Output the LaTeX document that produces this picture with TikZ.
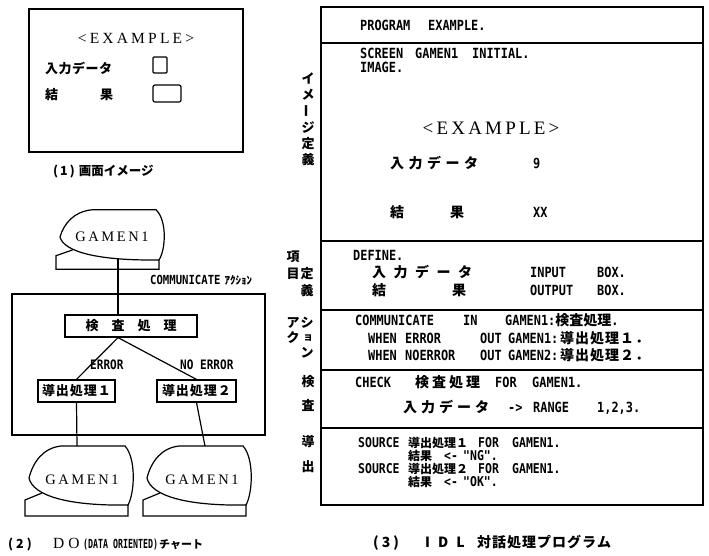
\documentclass[tikz,border=0pt]{standalone}
\usepackage{fontspec}
\setmainfont{Liberation Serif}
\newfontfamily\jpf{Noto Sans CJK JP}
\newfontfamily\codef[FakeStretch=0.85]{DejaVu Sans Mono}
\newfontfamily\serf{Liberation Serif}
\def\spreadtxt#1#2{\def\spreadgap{#1}\spreadfirst#2\relax}
\def\spreadfirst#1{#1\spreadloop}
\def\spreadloop#1{\ifx#1\relax\else\kern\spreadgap#1\expandafter\spreadloop\fi}
\newcommand\cellw[2]{\makebox[#1pt][l]{#2}}
\newcommand\jtxt[1]{{\jpf\bfseries #1}}
\newcommand\crtshape[3]{%
  \begin{scope}[shift={(#1,#2)},yscale=#3]
    \draw[ln] (0,0) .. controls (4,-16) and (14,-30) .. (32,-32) -- (96,-32)
      .. controls (107,-20) and (106,14) .. (99,27)
      .. controls (40,28) and (4,18) .. cycle;
    \draw[ln] (13,15) -- (-4,22) -- (-4,38) -- (99,38) -- (99,27);
  \end{scope}}
\begin{document}
\begin{tikzpicture}[x=1pt,y=-1pt,
  ln/.style={line width=1.2pt},
  code/.style={anchor=base west,inner sep=0pt,font=\codef\bfseries\fontsize{14}{14}\selectfont},
  scode/.style={anchor=base west,inner sep=0pt,font=\codef\bfseries\fontsize{13.5}{13.5}\selectfont},
  jp/.style={inner sep=0pt,font=\jpf\bfseries\fontsize{13}{13}\selectfont},
  sideL/.style={jp,anchor=center},
  boxn/.style={draw,line width=1.2pt,inner sep=0pt,minimum height=22pt,font=\jpf\bfseries\fontsize{13}{13}\selectfont},
  gam/.style={inner sep=0pt,font=\serf\fontsize{14.5}{14.5}\selectfont},
  scrbox/.style={draw,line width=1.2pt,inner sep=0pt},
]
\useasboundingbox (0,0) rectangle (709,555);

% ---------- (1) screen image ----------
\draw[ln] (29,9) rectangle (243,152);
\node[inner sep=0pt,font=\serf\fontsize{15.5}{15.5}\selectfont] (p1t) at (136,38) {\spreadtxt{3.2pt}{<EXAMPLE>}};
\node[jp,anchor=west] (p1a) at (45,68) {\spreadtxt{0.5pt}{入力データ}};
\node[scrbox,rounded corners=1pt,minimum width=14pt,minimum height=16pt] (p1b) at (160,65) {};
\node[jp,anchor=west] (p1c) at (45,95) {結};
\node[jp,anchor=west] (p1d) at (100,95) {果};
\node[scrbox,rounded corners=2pt,minimum width=28pt,minimum height=17pt] (p1e) at (167,93.5) {};
\node[jp,anchor=west,font=\jpf\bfseries\fontsize{12.5}{12.5}\selectfont] (cap1) at (53,172) {(\kern2pt 1\kern2pt)\kern4pt 画面イメージ};

% ---------- (2) DO chart ----------
\crtshape{60}{237}{0.85}
\node[gam] (g0) at (112,237) {\spreadtxt{2.6pt}{GAMEN1}};
\coordinate (g0b) at (118,259);
\node[anchor=base west,inner sep=0pt,font=\codef\bfseries\fontsize{12.5}{12.5}\selectfont] (comm) at (150,284) {COMMUNICATE\kern4pt{\jpf\fontsize{11}{11}\selectfont ｱｸｼｮﾝ}};
\draw[ln] (12,294) rectangle (265,435);
\node[boxn,minimum width=132pt] (kensa) at (131,326) {\spreadtxt{13pt}{検査処理}};
\node[boxn,minimum width=77pt] (dq1) at (76.5,391) {\spreadtxt{1pt}{導出処理１}};
\node[boxn,minimum width=79pt] (dq2) at (196.5,391) {\spreadtxt{1pt}{導出処理２}};
\draw[ln] (g0b) -- (g0b |- kensa.north);
\coordinate (kj) at (g0b |- kensa.south);
\draw[ln] (kj) -- (dq1.north);
\draw[ln] (kj) -- (dq2.north);
\node[scode,font=\codef\bfseries\fontsize{13}{13}\selectfont] (err) at (90,369) {ERROR};
\node[scode,font=\codef\bfseries\fontsize{13}{13}\selectfont] (noerr) at (180,369) {NO ERROR};
\crtshape{29}{478}{1}
\crtshape{147}{478}{1}
\node[gam] (g1) at (82,480) {\spreadtxt{2.6pt}{GAMEN1}};
\node[gam] (g2) at (202,480) {\spreadtxt{2.6pt}{GAMEN1}};
\coordinate (g1t) at (77,446);
\coordinate (g2t) at (205,446);
\draw[ln] (dq1.south) -- (g1t);
\draw[ln] (dq2.south) -- (g2t);
\node[anchor=base west,inner sep=0pt] (cap2) at (8,548) {\cellw{45}{\jpf\bfseries\fontsize{12.5}{12.5}\selectfont(\kern3pt 2\kern3pt)}\cellw{30}{\serf\fontsize{15.5}{15.5}\selectfont D\kern4pt O}\cellw{76}{\codef\bfseries\fontsize{12.5}{12.5}\selectfont\scalebox{0.78}[1]{(DATA ORIENTED)}}{\jpf\bfseries\fontsize{11}{11}\selectfont チャート}};

% ---------- (3) IDL program ----------
\draw[ln] (321,7) rectangle (703,505);
\draw[ln] (321,43) -- (703,43);
\draw[ln] (321,241) -- (703,241);
\draw[ln] (321,310) -- (703,310);
\draw[ln] (321,370) -- (703,370);
\draw[ln] (321,428) -- (703,428);

\node[code] (r1) at (360,30) {\cellw{68}{PROGRAM}EXAMPLE.};
\node[code] (r2) at (360,58) {\cellw{55}{SCREEN}\cellw{57}{GAMEN1}INITIAL.};
\node[code] (r3) at (360,72) {IMAGE.};
\node[inner sep=0pt,font=\serf\fontsize{19}{19}\selectfont] (r4) at (491,128) {\spreadtxt{3.2pt}{<EXAMPLE>}};
\node[code] (r5) at (390,168) {\cellw{143}{\jtxt{\spreadtxt{4.5pt}{入力データ}}}9};
\node[code] (r6) at (390,217) {\cellw{60}{\jtxt{結}}\cellw{83}{\jtxt{果}}XX};

\node[code] (d1) at (353,260) {DEFINE.};
\node[code] (d2) at (372,277) {\cellw{158}{\jtxt{\spreadtxt{7.5pt}{入力データ}}}\cellw{67}{INPUT}BOX.};
\node[code] (d3) at (372,295) {\cellw{80}{\jtxt{結}}\cellw{78}{\jtxt{果}}\cellw{67}{OUTPUT}BOX.};

\node[code] (c1) at (355,325) {\cellw{108}{COMMUNICATE}\cellw{42}{IN}GAMEN1:\jtxt{検査処理}.};
\node[code] (c2) at (368,343) {\cellw{37}{WHEN}\cellw{75}{ERROR}\cellw{28}{OUT}\cellw{52}{GAMEN1:}\jtxt{\spreadtxt{1pt}{導出処理１．}}};
\node[code] (c3) at (368,360) {\cellw{37}{WHEN}\cellw{75}{NOERROR}\cellw{28}{OUT}\cellw{52}{GAMEN2:}\jtxt{\spreadtxt{1pt}{導出処理２．}}};

\node[code] (k1) at (355,387) {\cellw{60}{CHECK}\cellw{80}{\jtxt{\spreadtxt{3pt}{検査処理}}}\cellw{37}{FOR}GAMEN1.};
\node[code] (k2) at (403,412) {\cellw{105}{\jtxt{\spreadtxt{4pt}{入力データ}}}\cellw{25}{->}\cellw{64}{RANGE}1,2,3.};

\node[scode] (s1) at (358,447) {\cellw{50}{SOURCE}\cellw{70}{\jtxt{\fontsize{12}{12}\selectfont 導出処理１}}\cellw{34}{FOR}GAMEN1.};
\node[scode] (s2) at (408,460) {\cellw{36}{\jtxt{\fontsize{12}{12}\selectfont 結果}}\cellw{19}{<-}"NG".};
\node[scode] (s3) at (358,473) {\cellw{50}{SOURCE}\cellw{70}{\jtxt{\fontsize{12}{12}\selectfont 導出処理２}}\cellw{34}{FOR}GAMEN1.};
\node[scode] (s4) at (408,486) {\cellw{36}{\jtxt{\fontsize{12}{12}\selectfont 結果}}\cellw{19}{<-}"OK".};

% side labels
\node[sideL] (v1) at (308,78) {イ};
\node[sideL] (v2) at (308,95) {メ};
\node[sideL,rotate=90] (v3) at (308,111) {ー};
\node[sideL] (v4) at (308,128) {ジ};
\node[sideL] (v5) at (308,144) {定};
\node[sideL] (v6) at (308,160) {義};
\node[sideL] (h1) at (293,257) {項};
\node[sideL] (h2) at (293,274) {目};
\node[sideL] (h3) at (307,274) {定};
\node[sideL] (h4) at (307,291) {義};
\node[sideL] (a1) at (293,323) {ア};
\node[sideL] (a2) at (293,338) {ク};
\node[sideL] (a3) at (307,323) {シ};
\node[sideL,font=\jpf\bfseries\fontsize{10}{10}\selectfont] (a4) at (308,338) {ョ};
\node[sideL] (a5) at (307,353) {ン};
\node[sideL] (kl1) at (308,382) {検};
\node[sideL] (kl2) at (308,405) {査};
\node[sideL] (sl1) at (308,442) {導};
\node[sideL] (sl2) at (308,467) {出};

\node[anchor=base west,inner sep=0pt,font=\jpf\bfseries\fontsize{14}{14}\selectfont] (cap3) at (373,547) {\cellw{52}{(\kern3pt 3\kern3pt)}\cellw{52}{I\kern8pt D\kern8pt L}\spreadtxt{1pt}{対話処理プログラム}};
\end{tikzpicture}
\end{document}
